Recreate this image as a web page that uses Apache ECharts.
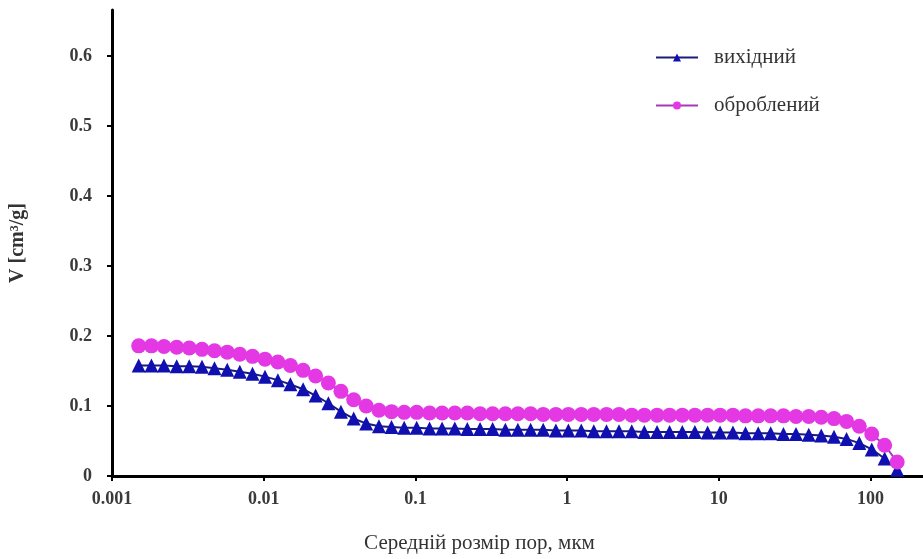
<!DOCTYPE html>
<html>
<head>
<meta charset="utf-8">
<script src="https://cdn.jsdelivr.net/npm/echarts@6/dist/echarts.min.js"></script>
<style>
  html, body { margin: 0; padding: 0; background: #fff; }
  #chart { width: 923px; height: 559px; }
</style>
</head>
<body>
<div id="chart"></div>
<script>
// Mean pore size, µm (log-spaced measurement points)
const poreSize = [
  0.0015, 0.00182, 0.0022, 0.00267, 0.00323, 0.00392, 0.00474, 0.00575, 0.00696, 0.00844,
  0.0102, 0.0124, 0.015, 0.0182, 0.022, 0.0267, 0.0323, 0.0392, 0.0474, 0.0575,
  0.0696, 0.0844, 0.102, 0.124, 0.15, 0.182, 0.22, 0.267, 0.323, 0.392,
  0.474, 0.575, 0.696, 0.844, 1.02, 1.24, 1.5, 1.82, 2.2, 2.67,
  3.23, 3.92, 4.74, 5.75, 6.96, 8.44, 10.2, 12.4, 15, 18.2,
  22, 26.7, 32.3, 39.2, 47.4, 57.5, 69.6, 84.4, 102, 124,
  150
];

// Cumulative pore volume, cm³/g — initial sample
const volInitial = [
  0.158, 0.158, 0.158, 0.157, 0.157, 0.156, 0.154, 0.152, 0.149, 0.146,
  0.142, 0.137, 0.131, 0.124, 0.115, 0.104, 0.092, 0.082, 0.075, 0.071,
  0.070, 0.069, 0.069, 0.068, 0.068, 0.068, 0.067, 0.067, 0.067, 0.066,
  0.066, 0.066, 0.066, 0.065, 0.065, 0.065, 0.064, 0.064, 0.064, 0.064,
  0.063, 0.063, 0.063, 0.063, 0.063, 0.062, 0.062, 0.062, 0.061, 0.061,
  0.061, 0.060, 0.060, 0.059, 0.058, 0.056, 0.053, 0.047, 0.038, 0.025,
  0.009
];

// Cumulative pore volume, cm³/g — treated sample
const volTreated = [
  0.186, 0.186, 0.185, 0.184, 0.183, 0.181, 0.179, 0.177, 0.174, 0.171,
  0.167, 0.163, 0.158, 0.151, 0.143, 0.133, 0.121, 0.109, 0.100, 0.094,
  0.092, 0.091, 0.091, 0.090, 0.090, 0.090, 0.090, 0.089, 0.089, 0.089,
  0.089, 0.089, 0.088, 0.088, 0.088, 0.088, 0.088, 0.088, 0.088, 0.087,
  0.087, 0.087, 0.087, 0.087, 0.087, 0.087, 0.087, 0.087, 0.086, 0.086,
  0.086, 0.086, 0.085, 0.085, 0.084, 0.082, 0.078, 0.071, 0.060, 0.044,
  0.020
];

const xTicks = [0.001, 0.01, 0.1, 1, 10, 100];
const seriesNames = ['вихідний', 'оброблений'];

const serif = '"Liberation Serif", "DejaVu Serif", serif';
const pairs = (ys) => poreSize.map((x, i) => [x, ys[i]]);

const chart = echarts.init(document.getElementById('chart'), null, { renderer: 'canvas' });
chart.setOption({
  animation: false,
  backgroundColor: '#ffffff',
  grid: { left: 89, right: 0, top: 10, bottom: 74 },
  legend: {
    orient: 'vertical',
    left: 650,
    top: 42,
    itemWidth: 42,
    itemHeight: 10,
    itemGap: 27,
    textStyle: { fontFamily: serif, fontSize: 21, color: '#333', padding: [0, 0, 0, 11] },
    data: seriesNames
  },
  xAxis: {
    type: 'log',
    logBase: 10,
    min: 0.001,
    max: 222,
    name: 'Середній розмір пор, мкм',
    nameLocation: 'middle',
    nameGap: 57,
    nameTextStyle: { fontFamily: serif, fontSize: 21, color: '#333', padding: [0, 76, 0, 0] },
    axisLine: { lineStyle: { color: '#000', width: 3 } },
    axisTick: { show: true, inside: false, length: 5, lineStyle: { color: '#000', width: 2 }, customValues: xTicks },
    axisLabel: {
      margin: 14, fontFamily: serif, fontSize: 18, fontWeight: 'bold', color: '#3a3a3a',
      customValues: xTicks,
      formatter: (v) => String(+v.toPrecision(3))
    },
    splitLine: { show: false },
    minorTick: { show: false }
  },
  yAxis: {
    type: 'value',
    min: 0,
    max: 0.666,
    interval: 0.1,
    name: 'V [cm³/g]',
    nameLocation: 'middle',
    nameRotate: 90,
    nameGap: 64,
    nameTextStyle: { fontFamily: serif, fontSize: 20, fontWeight: 'bold', color: '#333', padding: [0, 0, 20, 0] },
    axisLine: { show: true, lineStyle: { color: '#000', width: 3 } },
    axisTick: { show: true, inside: false, length: 5, lineStyle: { color: '#000', width: 2 } },
    axisLabel: {
      margin: 20, fontFamily: serif, fontSize: 18, fontWeight: 'bold', color: '#3a3a3a',
      showMaxLabel: false,
      formatter: (v) => (v === 0 ? '0' : v.toFixed(1))
    },
    splitLine: { show: false }
  },
  series: [
    {
      name: seriesNames[0],
      type: 'line',
      data: pairs(volInitial),
      symbol: 'triangle',
      symbolSize: 14,
      lineStyle: { color: '#1c1c78', width: 2 },
      itemStyle: { color: '#1010b0', borderWidth: 0 },
      z: 2
    },
    {
      name: seriesNames[1],
      type: 'line',
      data: pairs(volTreated),
      symbol: 'circle',
      symbolSize: 15,
      lineStyle: { color: '#a43ab4', width: 2 },
      itemStyle: { color: '#e438e4', borderWidth: 0 },
      z: 3
    }
  ]
});
</script>
</body>
</html>
